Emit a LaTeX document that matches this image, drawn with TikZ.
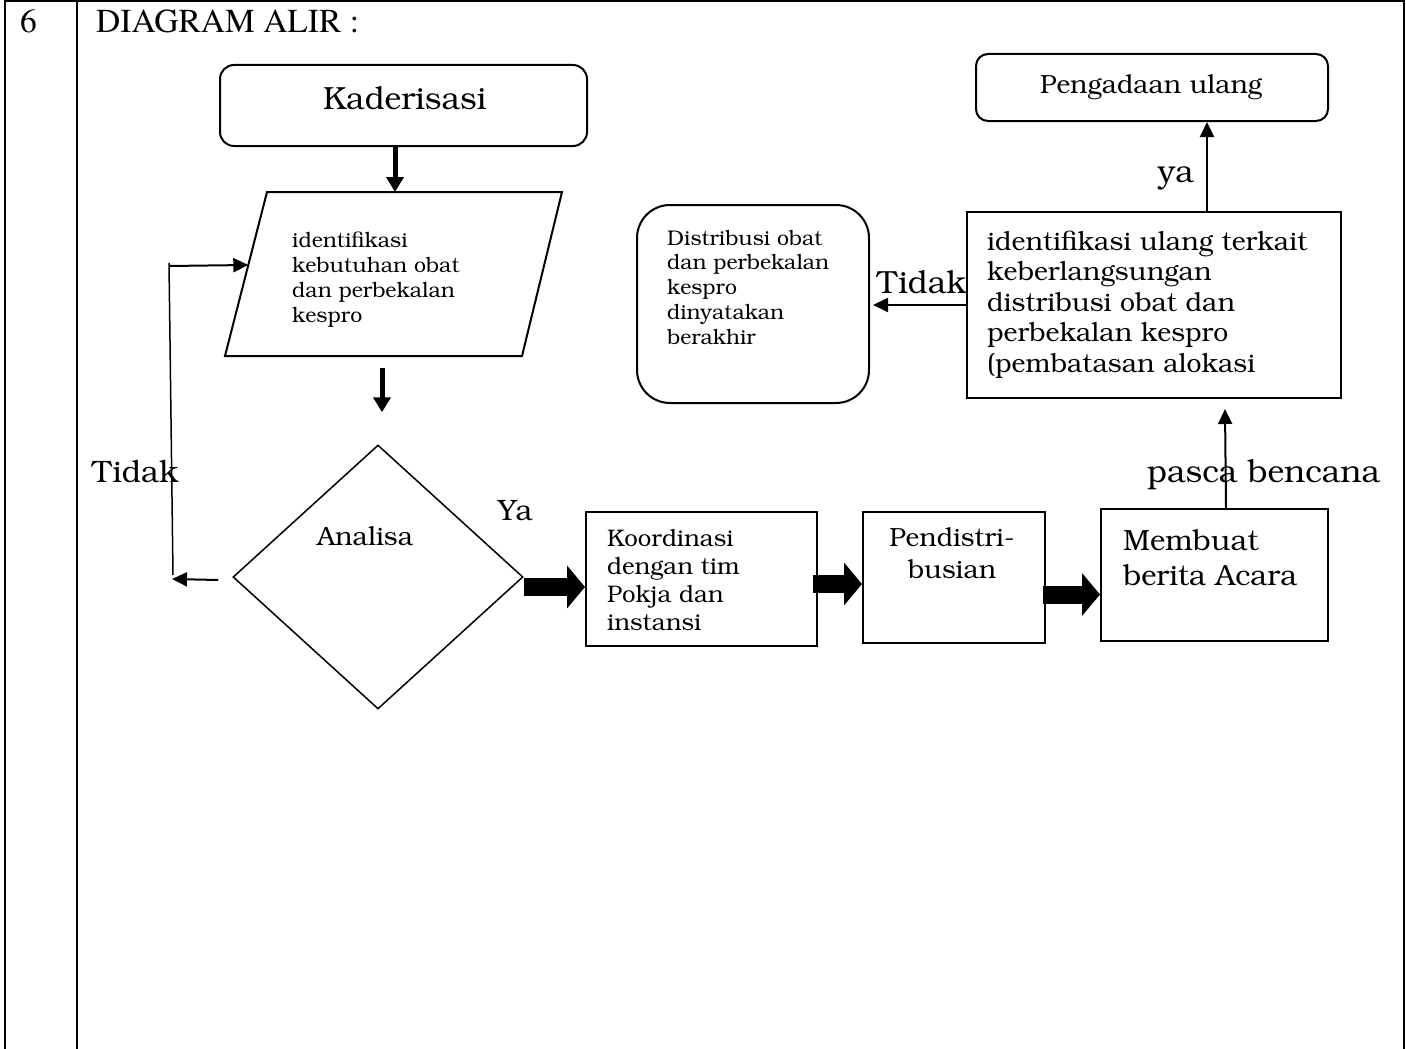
\documentclass[tikz,border=0pt]{standalone}
\usepackage[T1]{fontenc}
\renewcommand{\rmdefault}{pbk}
\usetikzlibrary{arrows.meta,shapes.geometric,calc}

% text block: size, leading, lines (first baseline is the node's base)
\newcommand{\txtblock}[3]{\fontsize{#1}{#2}\selectfont\begin{tabular}[t]{@{}l@{}}#3\end{tabular}}
\newcommand{\txtblockc}[3]{\fontsize{#1}{#2}\selectfont\begin{tabular}[t]{@{}c@{}}#3\end{tabular}}
\newcommand{\fs}[1]{\fontsize{#1}{#1}\selectfont}
\newcommand{\timesfont}{\fontfamily{ptm}\selectfont}

\tikzset{
  frame/.style={line width=2.5pt},
  box/.style={draw, line width=2pt, inner sep=0pt},
  rbox/.style={box, rounded corners=14pt},
  thinline/.style={line width=1.5pt},
  conn/.style={line width=2pt, -{Triangle[length=15pt,width=14pt]}},
  heavy/.style={line width=5pt, -{Triangle[length=15pt,width=17pt]}},
  block/.style={line width=18pt, -{Triangle[length=18pt,width=42pt]}},
  lbl/.style={anchor=base west, inner sep=0pt},
  lblc/.style={anchor=base, inner sep=0pt},
}

\begin{document}
\begin{tikzpicture}[x=1pt,y=-1pt]
\useasboundingbox (0,0) rectangle (1406,1049);
\fill[white] (0,0) rectangle (1406,1049);

% table frame
\draw[frame] (5,1049) -- (5,1) -- (1404,1) -- (1404,1049);
\draw[frame] (77,1) -- (77,1049);
\node[lbl] (num) at (20,33) {\fs{33.5}\timesfont 6};
\node[lbl] (head) at (96,33) {\fs{33.5}\timesfont DIAGRAM ALIR :};

% start
\node[rbox, minimum width=367pt, minimum height=81pt] (kad) at (403.5,105.5) {};
\node[lbl] (kadt) at (323,110) {\fs{32}Kaderisasi};

% input parallelogram
\coordinate (pTL) at (267,192);
\coordinate (pTR) at (562,192);
\coordinate (pBR) at (522,356);
\coordinate (pBL) at (225,356);
\draw[box] (pTL) -- (pTR) -- (pBR) -- (pBL) -- cycle;
\node[lbl] (parat) at (292,247) {\txtblock{21.3}{25}{identifikasi\\kebutuhan obat\\dan perbekalan\\kespro}};

% decision
\node[diamond, draw, line width=1.5pt, inner sep=0pt, minimum width=290pt, minimum height=264pt] (dia) at (378,577) {};
\node[lbl] (diat) at (317,545) {\fs{26.5}Analisa};

% process boxes
\node[box, minimum width=231pt, minimum height=134pt] (koord) at (701.5,579) {};
\node[lbl] (koordt) at (607,546) {\txtblock{24}{28}{Koordinasi\\dengan tim\\Pokja dan\\instansi}};
\node[box, minimum width=182pt, minimum height=131pt] (pend) at (954,577.5) {};
\node[lblc] (pendt) at (952,546) {\txtblockc{26.3}{32}{Pendistri-\\busian}};
\node[box, minimum width=227pt, minimum height=132pt] (memb) at (1214.5,575) {};
\node[lbl] (membt) at (1123,550) {\txtblock{29.2}{35}{Membuat\\berita Acara}};

% re-identification
\node[box, minimum width=374pt, minimum height=186pt] (idul) at (1154,305) {};
\node[lbl] (idult) at (987,250) {\txtblock{26.6}{30.5}{identifikasi ulang terkait\\keberlangsungan\\distribusi obat dan\\perbekalan kespro\\(pembatasan alokasi}};
\node[rbox, rounded corners=12pt, minimum width=352pt, minimum height=67pt] (peng) at (1152,87.5) {};
\node[lbl] (pengt) at (1040,93) {\fs{26.3}Pengadaan ulang};
\node[rbox, rounded corners=33pt, minimum width=232pt, minimum height=198pt] (dist) at (753,304) {};
\node[lbl] (distt) at (667,245) {\txtblock{21.2}{24.8}{Distribusi obat\\dan perbekalan\\kespro\\dinyatakan\\berakhir}};

% connectors
\draw[heavy] ([xshift=-8.5pt]kad.south) -- ([xshift=-8.5pt]kad.south |- pTL);
\draw[heavy] ($(pBL -| dia.north)+(4,12)$) -- ($(dia.north)+(4,-32)$);

\coordinate (lt) at (169,266);
\coordinate (lb) at (172,579);
\draw[conn] ($(dia.west)+(-14,3)$) -- (lb);
\draw[thinline] ($(lb)+(1,-4)$) -- ($(lt)+(0,-3)$);
\draw[conn] (lt) -- ($(pTL)!0.445!(pBL)$);
\node[lbl] (tidak1) at (92,482) {\fs{31}Tidak};
\node[lbl] (ya1) at (498,520) {\fs{29.5}Ya};

\path ($(dia.east)+(0,10)$) coordinate (b1s);
\draw[block] (b1s) -- (b1s -| koord.west);
\path ($(koord.east)+(-5,5)$) coordinate (b2s);
\draw[block] (b2s) -- (b2s -| pend.west);
\path ($(pend.east)+(-3,17)$) coordinate (b3s);
\draw[block] (b3s) -- (b3s -| memb.west);

\draw[conn] ([xshift=11.5pt]memb.north) -- ($(idul.south)+(71,10)$);
\node[lbl] (pasca) at (1147,482) {\fs{32}pasca bencana};

\draw[conn] ([xshift=53pt]idul.north) -- ([xshift=53pt]idul.north |- peng.south);
\node[lbl] (ya2) at (1158,182) {\fs{32}ya};

\draw[conn] (idul.west) -- ($(idul.west -| dist.east)+(3,0)$);
\node[lbl] (tidak2) at (877,293) {\fs{32}Tidak};
\end{tikzpicture}
\end{document}
